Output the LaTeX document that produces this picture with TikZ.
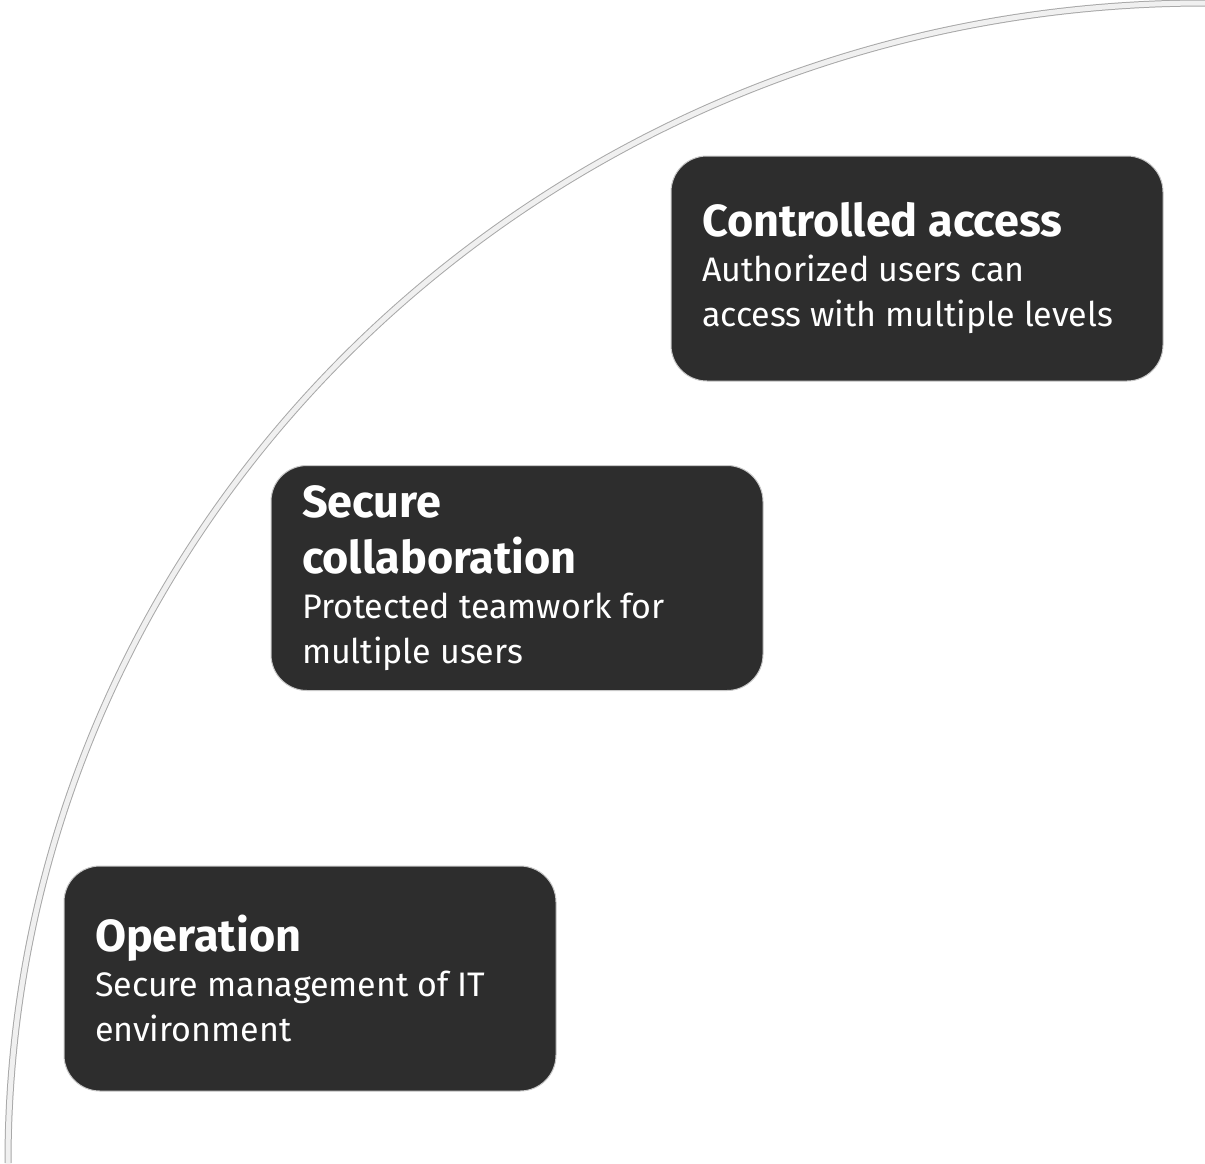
\documentclass[tikz,border=0pt]{standalone}
\usepackage{fontspec}
\setmainfont{Fira Sans}
\usepackage{tikz}
\definecolor{cardfill}{HTML}{2D2D2D}
\definecolor{cardline}{HTML}{C8C8C8}
\definecolor{bandfill}{HTML}{F0F0F0}
\definecolor{bandedge}{HTML}{A8A8A8}
\newcommand{\titlefont}{\fontsize{45}{56}\selectfont\bfseries\spaceskip=0pt\xspaceskip=0pt}
\newcommand{\bodyfont}{\fontsize{34}{45}\selectfont\spaceskip=0pt\xspaceskip=0pt}

\begin{document}
\begin{tikzpicture}[x=1pt, y=-1pt,
  card/.style={draw=cardline, line width=1, fill=cardfill, rounded corners=36,
    minimum width=492, minimum height=225, inner xsep=31, inner ysep=12,
    text width=430, align=left, text=white}]
\useasboundingbox (0,0) rectangle (1205,1163);
% quarter arc
\draw[bandedge, line width=7] (8,1163) arc[start angle=180, end angle=270, x radius=1197, y radius=1160];
\draw[bandfill, line width=5] (8,1163) arc[start angle=180, end angle=270, x radius=1197, y radius=1160];

\node[card] (access) at (917,268.5) {{\titlefont Controlled access\par}{\bodyfont Authorized users can\\access with multiple levels\par}};
\node[card] (collab) at (517,578) {{\titlefont Secure\\collaboration\par}{\bodyfont Protected teamwork for\\multiple users\par}};
\node[card] (operation) at (310,978.5) {{\titlefont Operation\par}{\bodyfont Secure management of IT\\environment\par}};
\end{tikzpicture}
\end{document}
